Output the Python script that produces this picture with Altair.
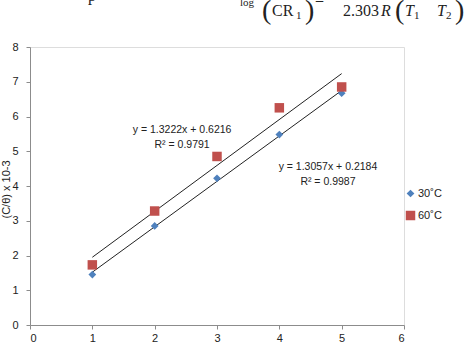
import altair as alt
import pandas as pd

# Data
x_vals = [1, 2, 3, 4, 5]
y_30 = [1.45, 2.85, 4.22, 5.48, 6.67]
y_60 = [1.73, 3.28, 4.85, 6.25, 6.85]
series_names = ["30˚C", "60˚C"]
x_ticks = [0, 1, 2, 3, 4, 5, 6]
y_ticks = [0, 1, 2, 3, 4, 5, 6, 7, 8]

ann_text = ["y = 1.3222x + 0.6216", "R² = 0.9791", "y = 1.3057x + 0.2184", "R² = 0.9987"]
ann_x = [2.44, 2.44, 4.78, 4.78]
ann_y = [5.62, 5.19, 4.55, 4.12]

df = pd.DataFrame({
    "x": x_vals + x_vals,
    "y": y_30 + y_60,
    "series": [series_names[0]] * 5 + [series_names[1]] * 5,
})
ann = pd.DataFrame({"x": ann_x, "y": ann_y, "t": ann_text})

FONT = "Liberation Sans"
xs = alt.Scale(domain=[0, 6], nice=False, zero=True)
ys = alt.Scale(domain=[0, 8], nice=False, zero=True)

X = alt.X("x:Q", scale=xs, axis=alt.Axis(values=x_ticks, format="d", title=None, grid=False,
                                         labelOverlap=False, tickCount=7,
                                         domainColor="#8c8c8c", tickColor="#8c8c8c", tickSize=4,
                                         labelFont=FONT, labelFontSize=11, labelColor="#222",
                                         labelPadding=3))
Y = alt.Y("y:Q", scale=ys, axis=alt.Axis(values=y_ticks, format="d", title="(C/θ) x 10-3", grid=False,
                                         labelOverlap=False, tickCount=9,
                                         domainColor="#8c8c8c", tickColor="#8c8c8c", tickSize=4,
                                         labelFont=FONT, labelFontSize=11, labelColor="#222",
                                         labelPadding=8, titleFont=FONT, titleFontSize=11,
                                         titleFontWeight="normal", titleColor="#222",
                                         titleX=-19, titleY=142, titleAngle=-90))

base = alt.Chart(df)

points = base.mark_point(filled=True, opacity=1, strokeWidth=0).encode(
    x=X, y=Y,
    color=alt.Color("series:N", scale=alt.Scale(domain=series_names, range=["#4F81BD", "#C0504D"]),
                    legend=alt.Legend(title=None, orient="none", legendX=375, legendY=141,
                                      labelFont=FONT, labelFontSize=11, labelColor="#222",
                                      rowPadding=10, symbolSize=70, labelOffset=2)),
    shape=alt.Shape("series:N", scale=alt.Scale(domain=series_names, range=["diamond", "square"]),
                    legend=None),
    size=alt.Size("series:N", scale=alt.Scale(domain=series_names, range=[60, 90]), legend=None),
)

lines = base.transform_regression("x", "y", groupby=["series"], extent=[1, 5]).mark_line(
    color="#222", strokeWidth=1
).encode(x=X, y=Y, detail="series:N")

labels = alt.Chart(ann).mark_text(font=FONT, fontSize=10.5, color="#222").encode(
    x=X, y=Y, text="t:N"
)

# cropped equation header (decoration)
def hdr(txt, x, y, size=16, align="left", style="normal"):
    return alt.Chart(pd.DataFrame({"a": [0]})).mark_text(
        text=txt, font="Liberation Serif", fontSize=size, align=align, baseline="alphabetic",
        fontStyle=style, color="#222"
    ).encode(x=alt.value(x), y=alt.value(y))

header = [
    hdr("log", 240 - 30, 6 - 47, size=11),
    hdr("(", 262 - 30, 19 - 47, size=28),
    hdr("CR", 272 - 30, 16 - 47),
    hdr("1", 296 - 30, 19 - 47, size=11),
    hdr(")", 305 - 30, 19 - 47, size=28),
    hdr("=", 315 - 30, 6 - 47),
    hdr("2.303", 343 - 30, 16 - 47),
    hdr("R", 381 - 30, 16 - 47, style="italic"),
    hdr("(", 395 - 30, 19 - 47, size=28),
    hdr("T", 405 - 30, 16 - 47, style="italic"),
    hdr("1", 414 - 30, 19 - 47, size=11),
    hdr("T", 437 - 30, 16 - 47, style="italic"),
    hdr("2", 446 - 30, 19 - 47, size=11),
    hdr(")", 455 - 30, 19 - 47, size=28),
    hdr("p", 88 - 30, 1 - 47),
]

chart = alt.layer(lines, points, labels, *header).properties(
    width=374, height=278,
    autosize=alt.AutoSizeParams(type="none"),
    padding={"left": 30, "top": 47, "right": 70, "bottom": 27},
).configure_view(stroke=None).configure(background="white")

chart.save("out.html", embed_options={"renderer": "svg", "actions": False})
